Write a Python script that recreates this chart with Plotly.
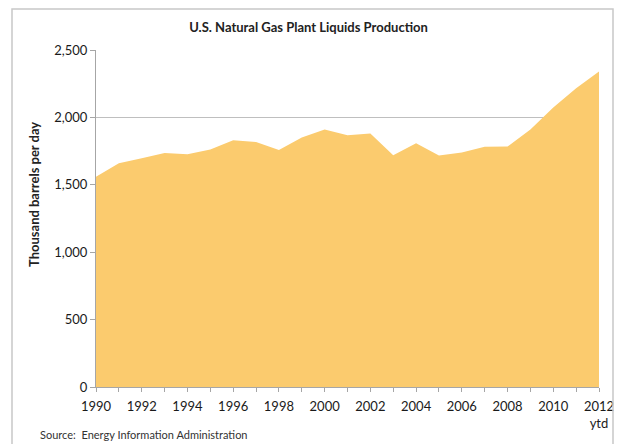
import plotly.graph_objects as go

# data (thousand barrels per day)
years = list(range(1990, 2013))
production = [1559, 1659, 1697, 1736, 1727, 1762, 1830, 1817, 1759, 1850,
              1911, 1868, 1880, 1719, 1809, 1717, 1739, 1783, 1784, 1910,
              2074, 2216, 2340]
tick_years = list(range(1990, 2013, 2))
tick_text = [str(y) for y in tick_years[:-1]] + ["2012<br>ytd"]

FONT = "Lato"

fig = go.Figure(go.Scatter(
    x=years, y=production,
    mode="lines", fill="tozeroy",
    line=dict(width=0, color="#FBCB6E"),
    fillcolor="#FBCB6E",
    hoverinfo="x+y"))

fig.update_layout(
    width=617, height=444,
    margin=dict(l=96, r=18, t=50, b=57, autoexpand=False),
    paper_bgcolor="white", plot_bgcolor="white",
    showlegend=False,
    font=dict(family=FONT, color="#333333"),
    title=dict(text="<b>U.S. Natural Gas Plant Liquids Production</b>",
               x=0.5, xanchor="center", y=1 - 27 / 444, yanchor="middle",
               font=dict(size=13, family=FONT, color="#222222")),
    xaxis=dict(range=[1990, 2012], tickvals=tick_years, ticktext=tick_text,
               automargin=False,
               showgrid=False, zeroline=False,
               showline=True, linecolor="#A6A6A6", linewidth=1,
               ticks="outside", ticklen=4, tickcolor="#A6A6A6",
               ticklabelstandoff=3,
               minor=dict(dtick=1, ticks="outside", ticklen=4,
                          tickcolor="#A6A6A6", showgrid=False),
               tickfont=dict(size=13, family=FONT, color="#1a1a1a")),
    yaxis=dict(range=[0, 2500], dtick=500, tickformat=",",
               automargin=False,
               showgrid=True, gridcolor="#BFBFBF", gridwidth=1,
               zeroline=False,
               showline=True, linecolor="#A6A6A6", linewidth=1,
               ticks="outside", ticklen=5, tickcolor="#A6A6A6",
               tickfont=dict(size=13, family=FONT, color="#1a1a1a")),
)

# outer chart border
fig.add_shape(type="rect", xref="paper", yref="paper",
              x0=(12 - 96) / 503, x1=(613 - 96) / 503,
              y0=(387 - 452) / 337, y1=(387 - 9) / 337,
              line=dict(color="#C8C8C8", width=1.5), layer="above")

fig.add_annotation(text="<b>Thousand barrels per day</b>",
                   xref="paper", yref="paper",
                   x=(34 - 96) / 503, y=(387 - 195) / 337,
                   textangle=-90, showarrow=False,
                   xanchor="center", yanchor="middle",
                   font=dict(size=13, family=FONT, color="#222222"))

fig.add_annotation(text="Source:  Energy Information Administration",
                   xref="paper", yref="paper",
                   x=(38 - 96) / 503, y=(387 - 434) / 337,
                   xanchor="left", yanchor="middle", showarrow=False,
                   font=dict(size=11, family=FONT, color="#333333"))

# drop the browser's default body margin so the figure sits at the window's corner
fig.write_html("out.html",
               config={"displayModeBar": False},
               post_script="document.body.style.margin='0';"
                           "document.body.style.overflow='hidden';")
